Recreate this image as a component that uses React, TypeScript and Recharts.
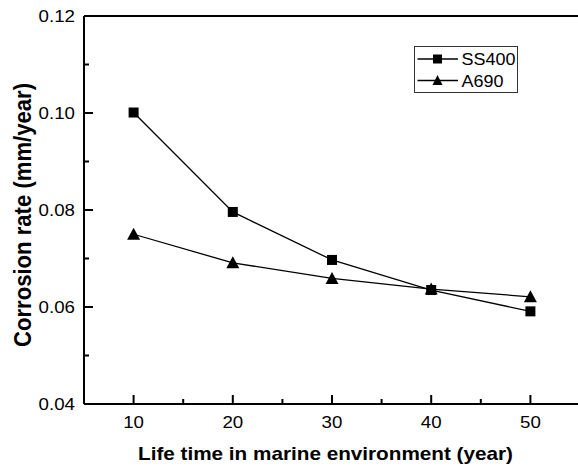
import React from "react";
import { LineChart, Line, XAxis, YAxis, Legend, ReferenceLine, Label } from "recharts";

const years = [10, 20, 30, 40, 50];
const ss400 = [0.1001, 0.0796, 0.0697, 0.0635, 0.0591];
const a690 = [0.075, 0.0691, 0.0659, 0.0637, 0.0621];
const xMajor = [10, 20, 30, 40, 50];
const xAllTicks = [10, 15, 20, 25, 30, 35, 40, 45, 50];
const yMajor = [0.04, 0.06, 0.08, 0.1, 0.12];
const yAllTicks = [0.04, 0.05, 0.06, 0.07, 0.08, 0.09, 0.1, 0.11, 0.12];
const seriesNames = ["SS400", "A690"];
const xTitle = "Life time in marine environment (year)";
const yTitle = "Corrosion rate (mm/year)";

const data = years.map((y, i) => ({ year: y, ss400: ss400[i], a690: a690[i] }));

const FONT = "'Liberation Sans', Arial, sans-serif";

const isMajorX = (v: number) => xMajor.includes(v);
const isMajorY = (v: number) => yMajor.some((m) => Math.abs(m - v) < 1e-6);

const XTickLabel = (props: any) => {
  const { x, y, payload } = props;
  return (
    <text
      transform={`translate(${x},${y + 23.5}) scale(1.1,1)`}
      textAnchor="middle"
      fontSize={17}
      fontFamily={FONT}
      fill="#000"
    >
      {String(payload.value)}
    </text>
  );
};

const YTickLabel = (props: any) => {
  const { x, y, payload } = props;
  return (
    <text
      transform={`translate(${x - 9},${y + 6}) scale(1.1,1)`}
      textAnchor="end"
      fontSize={17}
      fontFamily={FONT}
      fill="#000"
    >
      {Number(payload.value).toFixed(2)}
    </text>
  );
};

const xTickShape = (len: number) => (props: any) => {
  const x = Number(props.x1);
  const bottom = Math.max(Number(props.y1), Number(props.y2));
  return <rect x={x - 1} y={bottom - len} width={2} height={len} fill="#000" />;
};

const yTickShape = (len: number) => (props: any) => {
  const y = Number(props.y1);
  const left = Math.min(Number(props.x1), Number(props.x2));
  return <rect x={left} y={y - 1} width={len} height={2} fill="#000" />;
};

const SquareDot = (props: any) => {
  const { cx, cy, index } = props;
  return <rect key={`s${index}`} x={cx - 5} y={cy - 5} width={10} height={10} fill="#000" />;
};

const TriDot = (props: any) => {
  const { cx, cy, index } = props;
  return (
    <polygon
      key={`t${index}`}
      points={`${cx},${cy - 6.5} ${cx - 6.5},${cy + 5.5} ${cx + 6.5},${cy + 5.5}`}
      fill="#000"
    />
  );
};

const LegendBox = () => (
  <svg width={104} height={47} style={{ display: "block" }}>
    <rect x={0.5} y={0.5} width={103} height={46} fill="#fff" stroke="#333" strokeWidth={1} />
    <line x1={3.5} y1={13} x2={44} y2={13} stroke="#000" strokeWidth={1.3} />
    <rect x={19} y={8.5} width={9} height={9} fill="#000" />
    <text transform="translate(47.5,19) scale(1.06,1)" fontSize={17} fontFamily={FONT} fill="#000">
      {seriesNames[0]}
    </text>
    <line x1={3.5} y1={34.5} x2={44} y2={34.5} stroke="#000" strokeWidth={1.3} />
    <polygon points="23.5,29 18.5,39 28.5,39" fill="#000" />
    <text transform="translate(47.5,40.5) scale(1.06,1)" fontSize={17} fontFamily={FONT} fill="#000">
      {seriesNames[1]}
    </text>
  </svg>
);

export default function App() {
  return (
    <div
      style={{
        position: "absolute",
        left: 0,
        top: 0,
        width: 578,
        height: 471,
        overflow: "hidden",
        background: "#fff",
      }}
    >
      <LineChart
        width={600}
        height={471}
        data={data}
        margin={{ top: 16, right: 20, bottom: 0, left: 0 }}
      >
        <XAxis
          dataKey="year"
          type="number"
          domain={[5, 55]}
          ticks={xMajor}
          interval={0}
          tickLine={false}
          tickSize={0}
          tickMargin={0}
          tick={<XTickLabel />}
          axisLine={{ stroke: "#000", strokeWidth: 2 }}
          height={67}
        >
          <Label
            content={() => (
              <text
                x={325.5}
                y={460}
                textAnchor="middle"
                fontSize={19}
                fontWeight="bold"
                fontFamily={FONT}
                fill="#000"
                textLength={375}
                lengthAdjust="spacingAndGlyphs"
              >
                {xTitle}
              </text>
            )}
          />
        </XAxis>
        <YAxis
          type="number"
          domain={[0.04, 0.12]}
          ticks={yMajor}
          interval={0}
          tickLine={false}
          tickSize={0}
          tickMargin={0}
          tick={<YTickLabel />}
          axisLine={{ stroke: "#000", strokeWidth: 2 }}
          width={84}
        >
          <Label
            content={() => (
              <text
                x={31}
                y={215}
                transform="rotate(-90, 31, 215)"
                textAnchor="middle"
                fontSize={24}
                fontWeight="bold"
                fontFamily={FONT}
                fill="#000"
                textLength={264}
                lengthAdjust="spacingAndGlyphs"
              >
                {yTitle}
              </text>
            )}
          />
        </YAxis>
        <ReferenceLine y={0.12} stroke="#000" strokeWidth={2} ifOverflow="visible" />
        {xAllTicks.map((v) => (
          <ReferenceLine
            key={`xt${v}`}
            x={v}
            ifOverflow="visible"
            shape={xTickShape(isMajorX(v) ? 9 : 5)}
          />
        ))}
        {yAllTicks.map((v) => (
          <ReferenceLine
            key={`yt${v}`}
            y={v}
            ifOverflow="visible"
            shape={yTickShape(isMajorY(v) ? 9 : 5)}
          />
        ))}
        <Legend
          verticalAlign="middle"
          align="center"
          content={() => <LegendBox />}
          wrapperStyle={{ position: "absolute", left: 414, top: 46, width: 104, height: 47 }}
        />
        <Line
          dataKey="ss400"
          name={seriesNames[0]}
          stroke="#000"
          strokeWidth={1.3}
          dot={SquareDot}
          activeDot={false}
          isAnimationActive={false}
        />
        <Line
          dataKey="a690"
          name={seriesNames[1]}
          stroke="#000"
          strokeWidth={1.3}
          dot={TriDot}
          activeDot={false}
          isAnimationActive={false}
        />
      </LineChart>
    </div>
  );
}
